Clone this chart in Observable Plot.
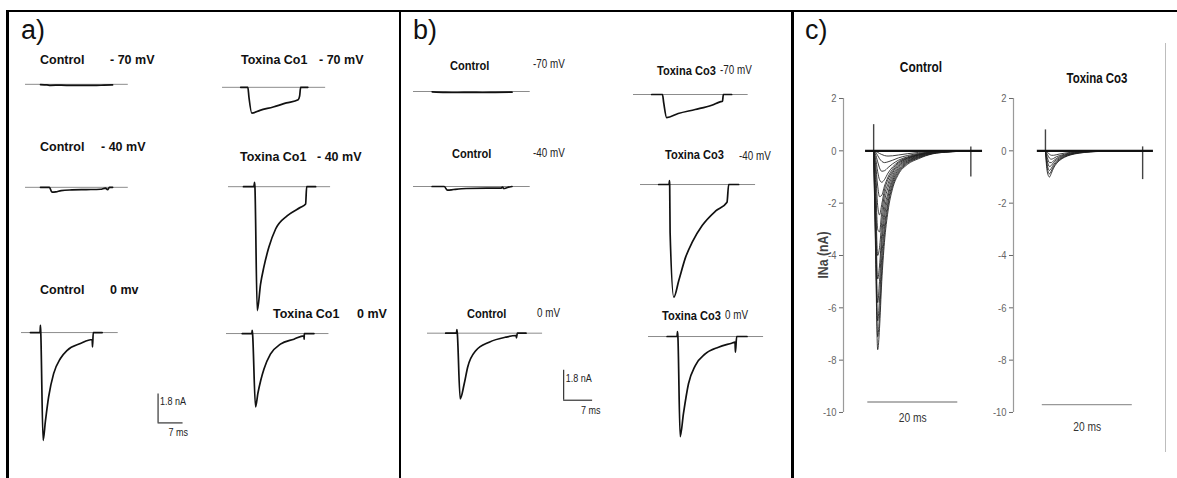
<!DOCTYPE html>
<html>
<head>
<meta charset="utf-8">
<script src="https://cdn.jsdelivr.net/npm/d3@7"></script>
<script src="https://cdn.jsdelivr.net/npm/@observablehq/plot@0.6"></script>
<style>
  body { margin: 0; background: #fff; }
  #fig { position: relative; width: 1177px; height: 478px; background: #fff; overflow: hidden; }
  #fig svg { position: absolute; }
  .rule { position: absolute; background: #000; }
</style>
</head>
<body>
<div id="fig"></div>
<script>
// ---------- data: time in ms from pulse onset, current in nA ----------

// a) Toxina Co1 — sodium currents at three holding potentials
const aControl70 = [[-2.8,-0.02],[-1,-0.04],[0,-0.06],[3,-0.05],[6,-0.07],[9,-0.06],[12,-0.07],[15,-0.05],[17.4,-0.03]];
const aToxin70   = [[-2.2,0],[-0.2,0],[0.1,-0.6],[0.9,-1.6],[3.2,-1.43],[6.9,-1.22],[10.6,-0.97],[13.9,-0.77],[14.3,-0.55],[14.6,0],[16.6,0]];
const aControl40 = [[-2.8,0],[-0.3,0],[0.4,-0.3],[1.5,-0.28],[3,-0.2],[6,-0.16],[10,-0.14],[14,-0.12],[15.4,-0.05],[16,-0.15],[16.5,0],[17.4,0]];
const aToxin40   = [[-3.1,0],[-0.2,0],[0,0.27],[0.1,0],[0.75,-7.7],[1.68,-6.05],[2.6,-5.0],[4.0,-3.77],[5.9,-2.63],[9.2,-1.8],[12.9,-1.28],[14.3,-1.08],[14.6,0],[17.1,0]];
const aControl0  = [[-2.8,0],[-0.1,0],[0,0.45],[0.1,0],[0.75,-6.7],[1.4,-5.5],[2.3,-4.0],[3.7,-2.55],[5.6,-1.61],[7.5,-1.1],[11.2,-0.68],[14.5,-0.43],[14.6,-0.89],[14.8,0],[17.3,0]];
const aToxin0    = [[-2.8,0],[-0.1,0],[0,0.2],[0.1,0],[0.93,-4.55],[1.6,-3.7],[2.4,-2.9],[3.3,-2.2],[5.1,-1.28],[7.9,-0.66],[11.7,-0.35],[14.5,-0.14],[14.55,-0.35],[14.6,0],[17.3,0]];
const aSpans     = [[-7,21.8],[-7.3,21.6],[-7,21.8],[-7.3,21.3],[-5.3,21.8],[-7.2,21.5]];
const aNames     = ["Control","Toxina Co1","Control","Toxina Co1","Control","Toxina Co1"];
const aVoltages  = ["- 70 mV","- 70 mV","- 40 mV","- 40 mV","0 mv","0 mV"];

// b) Toxina Co3 — same protocol
const bControl70 = [[-3.2,-0.02],[0,-0.05],[3,-0.06],[6,-0.05],[9,-0.06],[12,-0.05],[16.1,-0.04]];
const bToxin70   = [[-2.8,0],[-0.2,0],[0.1,-0.5],[0.8,-1.38],[3.6,-1.14],[7.7,-0.9],[11.7,-0.64],[13.7,-0.44],[14.3,-0.4],[14.5,0],[16.5,0]];
const bControl40 = [[-3.2,0],[-0.3,0],[0.5,-0.22],[2,-0.18],[5,-0.12],[10,-0.1],[13.5,-0.1],[13.8,-0.03],[14.1,-0.12],[15,-0.06],[16.1,0]];
const bToxin40   = [[-2.6,0],[-0.1,0],[0,0.24],[0.05,0],[0.15,-2.86],[1.05,-6.75],[2.25,-5.75],[3.9,-4.35],[5.5,-3.45],[7.9,-2.46],[11.1,-1.6],[13.9,-1.06],[14.3,0],[16.7,0]];
const bControl0  = [[-2.7,0],[-0.1,0],[0,0.22],[0.1,0],[0.8,-3.93],[1.77,-3.03],[2.6,-2.04],[4.6,-1.04],[7.8,-0.54],[11.8,-0.24],[14.3,-0.14],[14.4,-0.28],[14.6,0],[16.7,0]];
const bToxin0    = [[-2.5,0],[-0.1,0],[0,0.3],[0.1,0],[0.65,-6.0],[1.45,-4.6],[2.66,-2.83],[4.3,-1.74],[6.7,-1.04],[9.9,-0.64],[13.1,-0.4],[13.9,-0.34],[14.0,-0.94],[14.3,0],[16.8,0]];
const bSpans     = [[-7.7,20.5],[-7.2,20.5],[-7.7,20.5],[-7.0,20.8],[-7.1,20.7],[-7.0,20.8]];
const bNames     = ["Control","Toxina Co3","Control","Toxina Co3","Control","Toxina Co3"];
const bVoltages  = ["-70 mV","-70 mV","-40 mV","-40 mV","0 mV","0 mV"];

// calibration bars shared by a) and b)
const calCurrent = 1.8;   // nA
const calTime = 7;        // ms

// c) current families, sampled at common times after the step
const cTimes = [0, 0.4, 0.9, 1.3, 1.8, 2.4, 3.2, 4.2, 5.5, 7.5, 10, 13, 17, 21.5];
const cControlSweeps = [
  [0,-3.6,-7.6,-6.8,-5.0,-3.5,-2.3,-1.45,-0.9,-0.52,-0.3,-0.12,-0.04,0],
  [0,-3.3,-7.1,-6.3,-4.6,-3.2,-2.1,-1.35,-0.84,-0.48,-0.27,-0.11,-0.04,0],
  [0,-3.0,-6.5,-5.7,-4.1,-2.9,-1.95,-1.25,-0.78,-0.45,-0.25,-0.1,-0.03,0],
  [0,-2.6,-5.8,-5.0,-3.6,-2.55,-1.75,-1.15,-0.72,-0.42,-0.23,-0.09,-0.03,0],
  [0,-2.1,-4.9,-4.4,-3.2,-2.25,-1.6,-1.05,-0.66,-0.39,-0.21,-0.08,-0.03,0],
  [0,-1.6,-4.0,-3.7,-2.75,-1.95,-1.4,-0.95,-0.6,-0.36,-0.19,-0.07,-0.02,0],
  [0,-1.1,-3.0,-3.1,-2.35,-1.7,-1.25,-0.85,-0.55,-0.33,-0.17,-0.07,-0.02,0],
  [0,-0.7,-2.1,-2.45,-2.05,-1.5,-1.1,-0.78,-0.5,-0.3,-0.16,-0.06,-0.02,0],
  [0,-0.45,-1.35,-1.75,-1.7,-1.35,-1.0,-0.7,-0.46,-0.28,-0.15,-0.06,-0.02,0],
  [0,-0.25,-0.8,-1.1,-1.2,-1.1,-0.85,-0.62,-0.42,-0.26,-0.14,-0.05,-0.02,0],
  [0,-0.12,-0.42,-0.65,-0.78,-0.76,-0.64,-0.5,-0.36,-0.23,-0.12,-0.05,-0.01,0],
  [0,-0.05,-0.18,-0.3,-0.4,-0.45,-0.42,-0.36,-0.27,-0.18,-0.1,-0.04,-0.01,0],
  [0,-0.02,-0.06,-0.1,-0.14,-0.18,-0.2,-0.19,-0.16,-0.11,-0.06,-0.02,0,0]
];
const cToxinSweeps = [
  [0,-0.8,-1.0,-0.86,-0.66,-0.5,-0.36,-0.25,-0.16,-0.09,-0.04,-0.02,0,0],
  [0,-0.66,-0.88,-0.77,-0.6,-0.45,-0.33,-0.23,-0.15,-0.08,-0.04,-0.01,0,0],
  [0,-0.52,-0.75,-0.67,-0.53,-0.4,-0.3,-0.21,-0.13,-0.07,-0.03,-0.01,0,0],
  [0,-0.38,-0.6,-0.56,-0.45,-0.35,-0.26,-0.18,-0.12,-0.06,-0.03,-0.01,0,0],
  [0,-0.25,-0.45,-0.45,-0.38,-0.3,-0.22,-0.16,-0.1,-0.05,-0.02,0,0,0],
  [0,-0.13,-0.28,-0.32,-0.29,-0.23,-0.18,-0.13,-0.08,-0.04,-0.02,0,0,0],
  [0,-0.05,-0.13,-0.17,-0.17,-0.15,-0.12,-0.09,-0.06,-0.03,-0.01,0,0,0]
];
const cControlArtifacts = [{t: 0, hi: 1.0, lo: 0}, {t: 21.6, hi: 0.15, lo: -1.0}];
const cToxinArtifacts   = [{t: 0, hi: 0.8, lo: 0}, {t: 21.6, hi: 0.15, lo: -1.1}];
const cControlHolding = [-1.8, 24.2];
const cToxinHolding   = [-1.8, 24.0];
const cTicks = [2, 0, -2, -4, -6, -8, -10];
const cBar = 20; // ms
const cTitles = ["Control", "Toxina Co3"];
const cYLabel = "INa (nA)";
const cBarLabel = "20 ms";
const panelLetters = ["a)", "b)", "c)"];

// ---------- layout ----------
const fig = document.getElementById("fig");
const SANS = '"Liberation Sans", Arial, sans-serif';
const NARROW_SCALE = 0.82;   // condensed lettering, drawn by squeezing Liberation Sans

const scaleA = {ms: 3.57, nA: 16.1};
const scaleB = {ms: 4.14, nA: 16.7};
const scaleC = {ms: 4.5, nA: 314 / 12};

const aOrigins = [[25,84],[222,87],[25,187],[228,186],[21,332],[226,333]];
const bOrigins = [[413,91],[633,94],[413,186],[640,184],[427,333],[648,336]];
const aNameAt = [[40,60],[241,60],[40,147],[240,157],[40,290],[273,314]];
const aVoltAt = [[110,60],[319,60],[101,147],[317,157],[110,290],[357,314]];
const bNameAt = [[450,65],[657,70],[452,153],[665,154],[467,313],[662,315]];
const bVoltAt = [[533,64],[720,70],[533,153],[739,156],[537,313],[725,315]];

function place(el, x, y) {
  el.style.left = x + "px";
  el.style.top = y + "px";
  fig.append(el);
}

// HTML text; "narrow" squeezes it horizontally about its anchor
function label(text, x, y, o = {}) {
  const d = document.createElement("div");
  d.textContent = text;
  const center = o.center || o.rotate;
  let tf = center ? "translate(-50%,-50%)" : (o.top ? "" : "translateY(-50%)");
  if (o.rotate) tf += " rotate(-90deg)";
  if (o.narrow) tf += ` scaleX(${NARROW_SCALE})`;
  Object.assign(d.style, {
    position: "absolute", whiteSpace: "nowrap", lineHeight: "1",
    font: `${o.weight || "normal"} ${o.size || 12}px ${SANS}`,
    color: o.color || "#111",
    transform: tf || "none",
    transformOrigin: center ? "50% 50%" : "0 50%"
  });
  place(d, x, y);
}

function box(x, y, w, h, color) {
  const d = document.createElement("div");
  d.className = "rule";
  Object.assign(d.style, {width: w + "px", height: h + "px", background: color || "#000"});
  place(d, x, y);
}

// squeeze every SVG text of a chart to the condensed width
function condense(svg) {
  svg.querySelectorAll("text").forEach(t => {
    const w = t.getComputedTextLength();
    if (w > 0) {
      t.setAttribute("textLength", (w * NARROW_SCALE).toFixed(2));
      t.setAttribute("lengthAdjust", "spacingAndGlyphs");
    }
  });
}

// single recorded sweep with its holding-level reference line
function sweep(points, span, sc, origin) {
  const [t0, t1] = span;
  const vals = points.map(p => p[1]);
  const hi = Math.max(0, ...vals) + 0.3;
  const lo = Math.min(0, ...vals) - 0.3;
  const svg = Plot.plot({
    width: (t1 - t0) * sc.ms,
    height: (hi - lo) * sc.nA,
    margin: 0,
    x: {domain: [t0, t1], axis: null},
    y: {domain: [lo, hi], axis: null},
    style: {background: "transparent", overflow: "visible"},
    marks: [
      Plot.ruleY([0], {stroke: "#8c8c8c", strokeWidth: 1}),
      Plot.line(points, {x: d => d[0], y: d => d[1], stroke: "#111", strokeWidth: 1.7, curve: "monotone-x"})
    ]
  });
  place(svg, origin[0], origin[1] - hi * sc.nA);
}

// L-shaped calibration bar
function calibration(sc, corner, dx) {
  const t0 = -1, t1 = calTime + 4, lo = -1, hi = calCurrent + 0.4;
  const svg = Plot.plot({
    width: (t1 - t0) * sc.ms,
    height: (hi - lo) * sc.nA,
    margin: 0,
    x: {domain: [t0, t1], axis: null},
    y: {domain: [lo, hi], axis: null},
    style: {background: "transparent", overflow: "visible"},
    marks: [
      Plot.ruleX([0], {y1: 0, y2: calCurrent, stroke: "#333", strokeWidth: 1.2}),
      Plot.ruleY([0], {x1: 0, x2: calTime, stroke: "#333", strokeWidth: 1.2}),
      Plot.text([`${calCurrent} nA`], {x: 0, y: calCurrent, dx: 2, dy: 8, textAnchor: "start", fontSize: 11, fontFamily: SANS, fill: "#222"}),
      Plot.text([`${calTime} ms`], {x: calTime, y: 0, dx: dx, dy: 10, textAnchor: "end", fontSize: 11, fontFamily: SANS, fill: "#222"})
    ]
  });
  place(svg, corner[0] + t0 * sc.ms, corner[1] - hi * sc.nA);
  condense(svg);
}

// one family-of-currents subplot with its own current axis
function family(sweeps, artifacts, holding, domain, axisX, barStart, barY, barDy) {
  const rows = sweeps.flatMap((s, k) => s.map((v, j) => ({t: cTimes[j], i: v, k})));
  const mL = 40, mT = 10, mB = 34;
  const svg = Plot.plot({
    width: mL + (domain[1] - domain[0]) * scaleC.ms,
    height: mT + 12 * scaleC.nA + mB,
    marginLeft: mL, marginRight: 0, marginTop: mT, marginBottom: mB,
    x: {domain, axis: null},
    y: {domain: [cTicks[cTicks.length - 1], cTicks[0]], axis: null},
    style: {background: "transparent", overflow: "visible"},
    marks: [
      Plot.ruleX([domain[0]], {y1: cTicks[cTicks.length - 1], y2: cTicks[0], stroke: "#9a9a9a", strokeWidth: 1.2}),
      Plot.axisY({ticks: cTicks, tickSize: 4, tickPadding: 3, tickFormat: d => String(d), label: null,
                  color: "#666", fontSize: 11.5, fontFamily: SANS}),
      Plot.line(rows, {x: "t", y: "i", z: "k", stroke: "#1e1e1e", strokeWidth: 0.95, strokeOpacity: 0.9, curve: "monotone-x"}),
      Plot.ruleX(artifacts, {x: "t", y1: "hi", y2: "lo", stroke: "#444", strokeWidth: 1.4}),
      Plot.ruleY([0], {x1: holding[0], x2: holding[1], stroke: "#111", strokeWidth: 2.4}),
      Plot.ruleY([barY], {x1: barStart, x2: barStart + cBar, stroke: "#999", strokeWidth: 1.3}),
      Plot.text([cBarLabel], {x: barStart + cBar / 2, y: barY, dy: barDy, fontSize: 12.5, fontFamily: SANS, fill: "#333"})
    ]
  });
  place(svg, axisX - mL, 98 - mT);
  condense(svg);
}

// ---------- frame ----------
box(6, 10, 1171, 2);
box(6, 10, 2.5, 468);
box(398.5, 10, 2.5, 468);
box(791, 10, 2.5, 468);
box(1165, 43, 1, 409, "#bdbdbd");

[21, 413, 805].forEach((x, k) => label(panelLetters[k], x, 15, {size: 27, top: true}));

// ---------- a) ----------
[aControl70, aToxin70, aControl40, aToxin40, aControl0, aToxin0].forEach((p, k) => {
  sweep(p, aSpans[k], scaleA, aOrigins[k]);
  label(aNames[k], aNameAt[k][0], aNameAt[k][1], {size: 12.5, weight: "bold"});
  label(aVoltages[k], aVoltAt[k][0], aVoltAt[k][1], {size: 12.5, weight: "bold"});
});
calibration(scaleA, [158, 422], 5);

// ---------- b) ----------
[bControl70, bToxin70, bControl40, bToxin40, bControl0, bToxin0].forEach((p, k) => {
  sweep(p, bSpans[k], scaleB, bOrigins[k]);
  label(bNames[k], bNameAt[k][0], bNameAt[k][1], {size: 13.5, weight: "bold", narrow: true});
  label(bVoltages[k], bVoltAt[k][0], bVoltAt[k][1], {size: 12, narrow: true, color: "#222"});
});
calibration(scaleB, [563, 400], 8);

// ---------- c) ----------
family(cControlSweeps, cControlArtifacts, cControlHolding, [-6.7, 25], 843, -1.3, -9.6, 16);
family(cToxinSweeps, cToxinArtifacts, cToxinHolding, [-7.1, 25], 1013, -0.7, -9.7, 22);
label(cTitles[0], 921, 67, {size: 14.5, weight: "bold", narrow: true, center: true});
label(cTitles[1], 1097, 78, {size: 14, weight: "bold", narrow: true, center: true});
label(cYLabel, 822, 255, {size: 15, weight: "bold", narrow: true, rotate: true, color: "#444"});
</script>
</body>
</html>
